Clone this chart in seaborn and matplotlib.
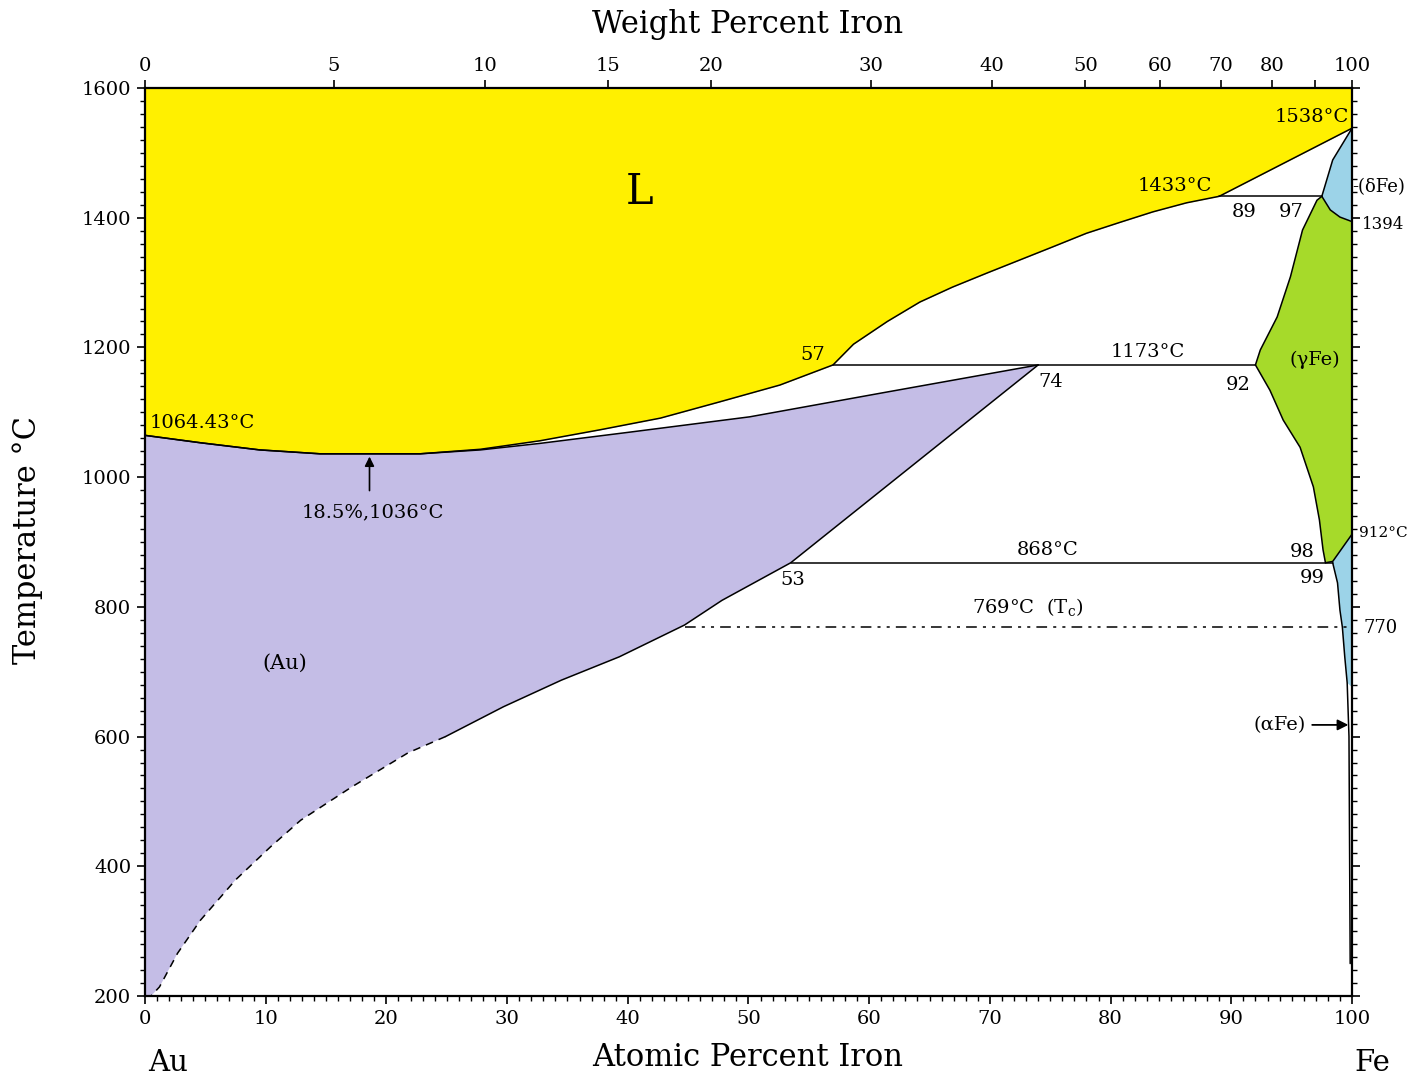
import numpy as np
import matplotlib
matplotlib.use("Agg")
import matplotlib.pyplot as plt
import seaborn as sns

# ---------------- data (atomic % Fe, temperature in °C) ----------------
liq_at = [0, 4.6, 9.5, 14.5, 18.5, 22.8, 27.8, 32.7, 37.7, 42.7, 47.6, 52.6, 57.0,
          58.7, 61.5, 64.2, 66.9, 69.8, 72.5, 75.2, 78.0, 80.8, 83.5, 86.3, 89.0, 100]
liq_T = [1064.43, 1053, 1042, 1036, 1036, 1036, 1043, 1056, 1073, 1091, 1116, 1142, 1173,
         1205, 1240, 1270, 1293, 1315, 1335, 1355, 1376, 1393, 1409, 1423, 1433, 1538]

sol_at = [0, 4.6, 9.5, 14.5, 18.5, 22.8, 27.8, 32.7, 40.0, 50.1, 61.1, 74.0]
sol_T = [1064.43, 1053, 1042, 1036, 1036, 1036, 1042, 1052, 1069, 1093, 1130, 1173]

solv_at = [74.0, 53.5, 47.8, 44.7, 39.3, 34.5, 29.7, 24.9, 21.8, 17.1, 12.9, 10.4, 7.5, 4.6, 2.7, 1.2, 0.5]
solv_T = [1173, 868, 810, 772, 723, 687, 646, 600, 575, 522, 471, 430, 379, 317, 266, 214, 200]

gam_up_at = [92.0, 92.4, 93.8, 94.9, 95.9, 97.1, 97.5]
gam_up_T = [1173, 1196, 1247, 1309, 1381, 1427, 1433]
gd_at = [97.5, 98.2, 99.0, 100.0]
gd_T = [1433, 1412, 1401, 1394]
gam_lo_at = [92.0, 93.2, 94.3, 95.7, 96.8, 97.3, 97.6, 97.8]
gam_lo_T = [1173, 1134, 1088, 1046, 985, 934, 888, 868]
ga_at = [97.8, 98.4, 100.0]
ga_T = [868, 870, 912]

dsol_at = [100.0, 98.4, 97.5]
dsol_T = [1538, 1489, 1433]

alpha_at = [98.4, 98.8, 99.0, 99.2, 99.4, 99.6, 99.75, 99.85]
alpha_T = [868, 837, 795, 769, 723, 683, 600, 250]
alpha_fill_min = 676

iso_T = [1433, 1173, 868]
iso_left = [89.0, 57.0, 53.5]
iso_right = [97.5, 92.0, 98.4]

curie_T = 769
curie_left = 44.7

wt_ticks = [0, 5, 10, 15, 20, 30, 40, 50, 60, 70, 80, 90, 100]
wt_labels = ["0", "5", "10", "15", "20", "30", "40", "50", "60", "70", "80", "", "100"]

M_FE, M_AU = 55.845, 196.967


def wt_to_at(w):
    w = np.asarray(w, dtype=float)
    a = w / M_FE
    b = (100 - w) / M_AU
    return 100 * a / (a + b)


YELLOW = "#FFF000"
LILAC = "#C4BDE6"
GREEN = "#A6DA2A"
BLUE = "#9CD3E8"

# ---------------- figure ----------------
sns.set_style("ticks")
plt.rcParams["font.family"] = ["DejaVu Serif"]
plt.rcParams["mathtext.fontset"] = "dejavuserif"
plt.rcParams["text.color"] = "black"

fig = plt.figure(figsize=(14.12, 10.81), dpi=100)
ax = fig.add_axes([145 / 1412, 1 - 996 / 1081, (1352 - 145) / 1412, (996 - 88) / 1081])
ax.set_xlim(0, 100)
ax.set_ylim(200, 1600)

# regions
ax.fill_between(liq_at, liq_T, 1600, color=YELLOW, lw=0, zorder=1)
lil_x = [0, 0] + sol_at + solv_at[1:]
lil_y = [200, 1064.43] + sol_T + solv_T[1:]
ax.fill(lil_x, lil_y, color=LILAC, lw=0, zorder=1)
g_x = gam_up_at + gd_at[1:] + [100.0] + ga_at[::-1][1:] + gam_lo_at[::-1][1:]
g_y = gam_up_T + gd_T[1:] + [912] + ga_T[::-1][1:] + gam_lo_T[::-1][1:]
ax.fill(g_x, g_y, color=GREEN, lw=0, zorder=1)
d_x = dsol_at + gd_at[1:]
d_y = dsol_T + gd_T[1:]
ax.fill(d_x, d_y, color=BLUE, lw=0, zorder=1)
a_keep = [i for i, t in enumerate(alpha_T) if t >= alpha_fill_min]
a_x = [ga_at[1], ga_at[2], 100.0] + [alpha_at[i] for i in a_keep][::-1]
a_y = [ga_T[1], ga_T[2], alpha_fill_min] + [alpha_T[i] for i in a_keep][::-1]
ax.fill(a_x, a_y, color=BLUE, lw=0, zorder=1)

# boundary lines
line_kw = dict(color="black", linewidth=1.1, sort=False, estimator=None, ax=ax, zorder=3)
for xs, ys in [(liq_at, liq_T), (sol_at, sol_T), (gam_up_at, gam_up_T), (gd_at, gd_T),
               (gam_lo_at, gam_lo_T), (ga_at, ga_T), (dsol_at, dsol_T), (alpha_at, alpha_T)]:
    sns.lineplot(x=xs, y=ys, **line_kw)

split = solv_T.index(600)
sns.lineplot(x=solv_at[:split + 1], y=solv_T[:split + 1], **line_kw)
sns.lineplot(x=solv_at[split:], y=solv_T[split:], linestyle=(0, (5, 4)), **line_kw)

for t, x0, x1 in zip(iso_T, iso_left, iso_right):
    sns.lineplot(x=[x0, x1], y=[t, t], **line_kw)
sns.lineplot(x=[curie_left, 100], y=[curie_T, curie_T],
             linestyle=(0, (7, 4, 2, 4, 2, 4)), **line_kw)

# ---------------- ticks ----------------
ax.set_xticks(range(0, 101, 10))
ax.set_xticks(range(0, 101, 1), minor=True)
ax.set_yticks(range(200, 1601, 200))
ax.set_yticks(range(200, 1601, 20), minor=True)
ax.tick_params(axis="both", which="major", direction="out", length=6, width=1.2,
               labelsize=14, pad=4, color="black", labelcolor="black")
ax.tick_params(axis="both", which="minor", direction="out", length=3.5, width=1.0, color="black")
ax.tick_params(axis="y", which="both", left=True, right=True, labelleft=True, labelright=False)
ax.tick_params(axis="x", which="both", bottom=True, top=False)
for s in ax.spines.values():
    s.set_linewidth(1.6)
    s.set_color("black")
    s.set_visible(True)

# top: atomic % ticks pointing inward
sec = ax.secondary_xaxis("top")
sec.set_xticks(range(0, 101, 10))
sec.set_xticks(range(0, 101, 1), minor=True)
sec.tick_params(which="major", direction="in", length=6, width=1.2, labeltop=False, top=True)
sec.tick_params(which="minor", direction="in", length=3, width=1.0, top=True)
sec.set_xticklabels([])

# top: weight % ticks pointing outward
ax2 = ax.twiny()
ax2.set_xlim(0, 100)
ax2.set_xticks(wt_to_at(wt_ticks))
ax2.set_xticklabels(wt_labels)
ax2.tick_params(axis="x", direction="out", length=6, width=1.2, labelsize=14, pad=3,
                color="black", labelcolor="black")
for s in ax2.spines.values():
    s.set_visible(False)

# ---------------- labels ----------------
fs = 14
kw = dict(fontsize=fs, ha="center", va="center", zorder=5)
ax.text(41.0, 1440, "L", fontsize=30, ha="center", va="center", zorder=5)
ax.text(99.7, 1555, "1538°C", fontsize=fs, ha="right", va="center", zorder=5)
ax.text(85.3, 1449, "1433°C", **kw)
ax.text(91.1, 1409, "89", **kw)
ax.text(95.0, 1409, "97", **kw)
ax.text(55.3, 1188, "57", **kw)
ax.text(83.1, 1193, "1173°C", **kw)
ax.text(75.0, 1147, "74", **kw)
ax.text(90.6, 1142, "92", **kw)
ax.text(96.9, 1181, "(γFe)", **kw)
ax.text(0.4, 1083, "1064.43°C", fontsize=fs, ha="left", va="center", zorder=5)
ax.annotate("", xy=(18.6, 1036), xytext=(18.6, 975),
            arrowprops=dict(arrowstyle="-|>", color="black", lw=1.2, mutation_scale=14), zorder=5)
ax.text(18.9, 946, "18.5%,1036°C", **kw)
ax.text(74.8, 888, "868°C", **kw)
ax.text(95.9, 885, "98", **kw)
ax.text(96.7, 845, "99", **kw)
ax.text(53.7, 841, "53", **kw)
ax.text(73.1, 800, "769°C  (T$_\\mathrm{c}$)", **kw)
ax.text(11.6, 713, "(Au)", fontsize=fs + 1, ha="center", va="center", zorder=5)
ax.annotate("(αFe)", xy=(99.7, 618), xytext=(96.2, 618), fontsize=fs,
            ha="right", va="center",
            arrowprops=dict(arrowstyle="-|>", color="black", lw=1.3, mutation_scale=16,
                            shrinkA=2, shrinkB=0), zorder=5)
ax.text(100.85, 1389, "1394", fontsize=12, ha="left", va="center", clip_on=False)
ax.text(100.0, 1447, "-(δFe)", fontsize=13, ha="left", va="center", clip_on=False)
ax.text(100.6, 914, "912°C", fontsize=11, ha="left", va="center", clip_on=False)
ax.text(100.95, 767, "770", fontsize=13, ha="left", va="center", clip_on=False)

fig.text(748 / 1412, 1 - 25 / 1081, "Weight Percent Iron", fontsize=22, ha="center", va="center")
fig.text(748 / 1412, 1 - 1058 / 1081, "Atomic Percent Iron", fontsize=22, ha="center", va="center")
fig.text(28 / 1412, 1 - 540 / 1081, "Temperature °C", fontsize=22, ha="center", va="center",
         rotation=90)
fig.text(168 / 1412, 1 - 1063 / 1081, "Au", fontsize=21, ha="center", va="center")
fig.text(1372 / 1412, 1 - 1063 / 1081, "Fe", fontsize=21, ha="center", va="center")

fig.savefig("out.png", dpi=100)
